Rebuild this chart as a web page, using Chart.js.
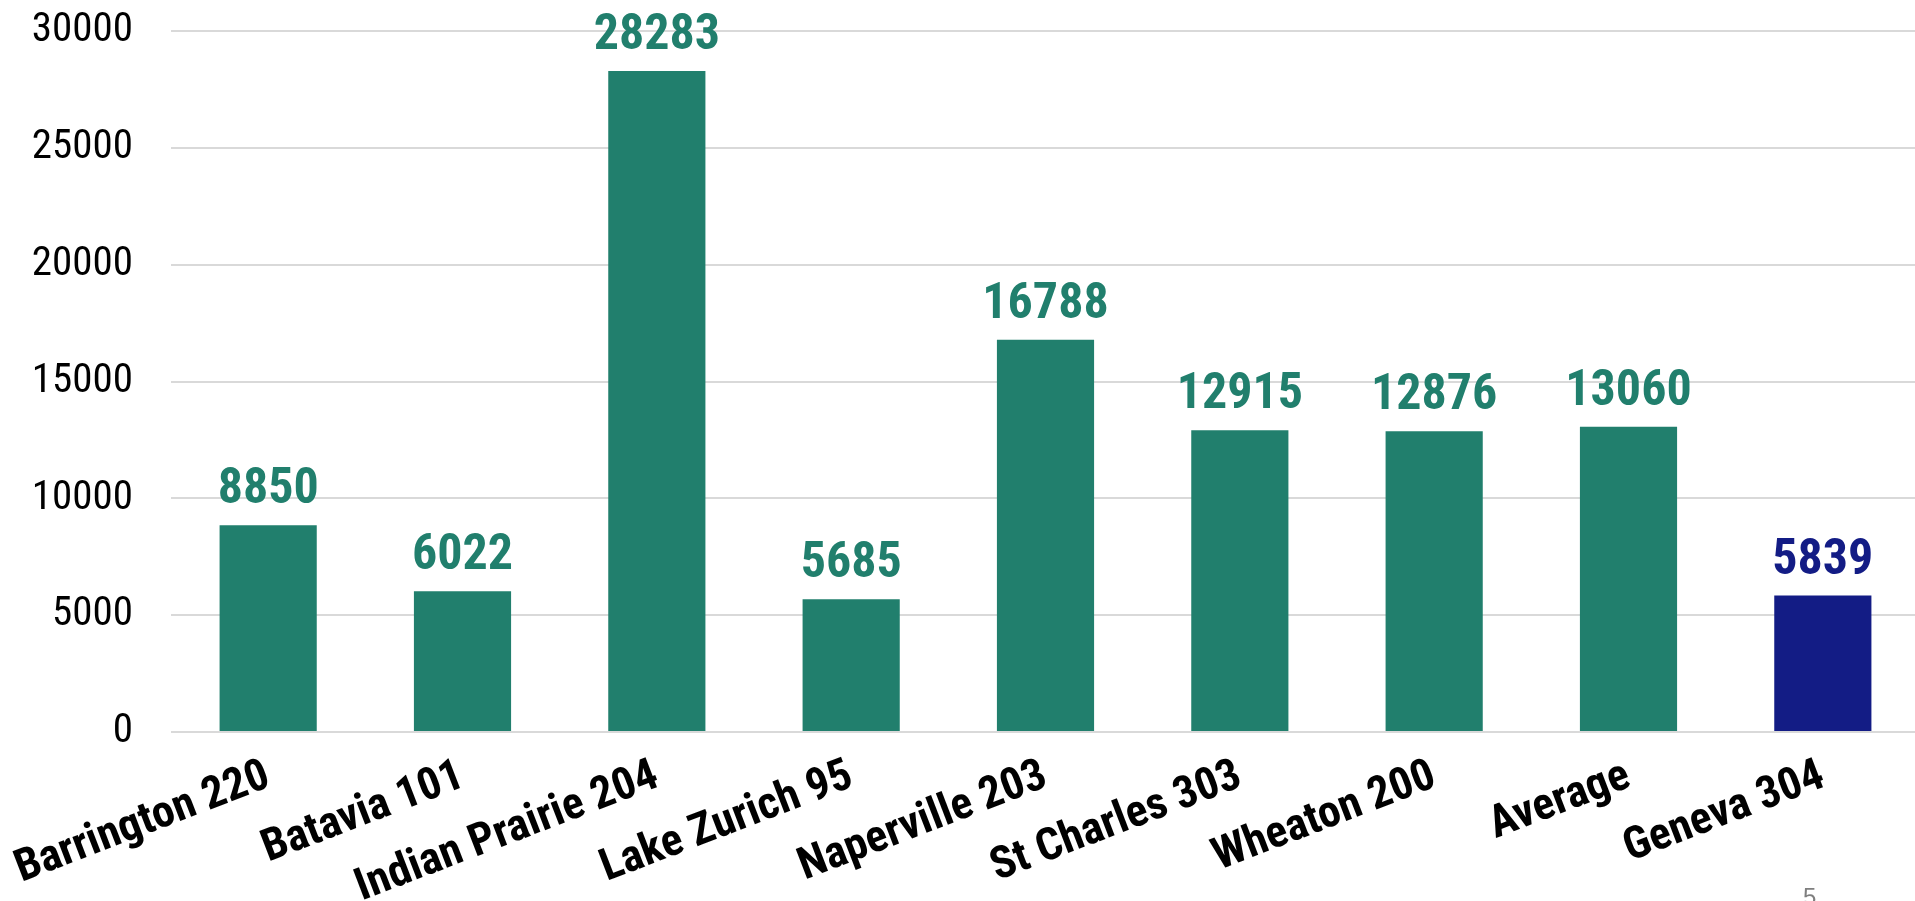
<!DOCTYPE html>
<html>
<head>
<meta charset="utf-8">
<script src="https://cdn.jsdelivr.net/npm/chart.js@4/dist/chart.umd.min.js"></script>
<style>
  html, body { margin: 0; padding: 0; background: #fff; overflow: hidden; }
  #wrap { position: relative; width: 1920px; height: 901px; }
  #pageNo { position: absolute; left: 1803px; top: 885px; font: 24px "Liberation Sans", Arial, sans-serif; line-height: 1; color: #7f7f7f; }
</style>
</head>
<body>
<div id="wrap">
  <canvas id="chart"></canvas>
  <div id="pageNo">5</div>
</div>
<script>
const categories = ["Barrington 220", "Batavia 101", "Indian Prairie 204", "Lake Zurich 95", "Naperville 203", "St Charles 303", "Wheaton 200", "Average", "Geneva 304"];
const values = [8850, 6022, 28283, 5685, 16788, 12915, 12876, 13060, 5839];
const yTicks = [0, 5000, 10000, 15000, 20000, 25000, 30000];
const highlight = "Geneva 304";

const GREEN = "#217f6d";
const BLUE = "#131c85";
const narrow = '"Roboto Condensed", "Liberation Sans Narrow", "Arial Narrow", sans-serif';

// value printed above each bar
const valueLabels = {
  id: "valueLabels",
  afterDatasetsDraw(chart) {
    const ctx = chart.ctx;
    const meta = chart.getDatasetMeta(0);
    ctx.save();
    ctx.font = "bold 50px " + narrow;
    ctx.textAlign = "center";
    ctx.textBaseline = "alphabetic";
    meta.data.forEach((bar, i) => {
      ctx.fillStyle = categories[i] === highlight ? BLUE : GREEN;
      ctx.fillText(String(values[i]), bar.x, bar.y - 22);
    });
    ctx.restore();
  }
};

new Chart(document.getElementById("chart"), {
  type: "bar",
  data: {
    labels: categories,
    datasets: [{
      data: values,
      backgroundColor: ctx => categories[ctx.dataIndex] === highlight ? BLUE : GREEN,
      barPercentage: 0.5,
      categoryPercentage: 1
    }]
  },
  options: {
    responsive: true,
    maintainAspectRatio: false,
    animation: false,
    layout: { padding: { top: 31, right: 0, bottom: 0, left: 0 } },
    plugins: { legend: { display: false }, tooltip: { enabled: false } },
    scales: {
      x: {
        grid: { display: false, drawTicks: false },
        border: { display: false },
        afterFit(scale) { scale.height = 169; scale.paddingLeft = 0; scale.paddingRight = 0; },
        ticks: {
          autoSkip: false,
          minRotation: 21,
          maxRotation: 21,
          padding: 18,
          color: "#000",
          font: { family: narrow, size: 45, weight: "bold" }
        }
      },
      y: {
        min: 0,
        max: 30000,
        afterBuildTicks(scale) { scale.ticks = yTicks.map(v => ({ value: v })); },
        afterFit(scale) { scale.width = 171; scale.paddingTop = 0; scale.paddingBottom = 0; },
        grid: { color: "#d9d9d9", lineWidth: 2, drawTicks: false },
        border: { display: false },
        ticks: {
          padding: 38,
          color: "#000",
          callback: v => String(v),
          font: { family: narrow, size: 41 }
        }
      }
    }
  },
  plugins: [valueLabels]
});
</script>
</body>
</html>
